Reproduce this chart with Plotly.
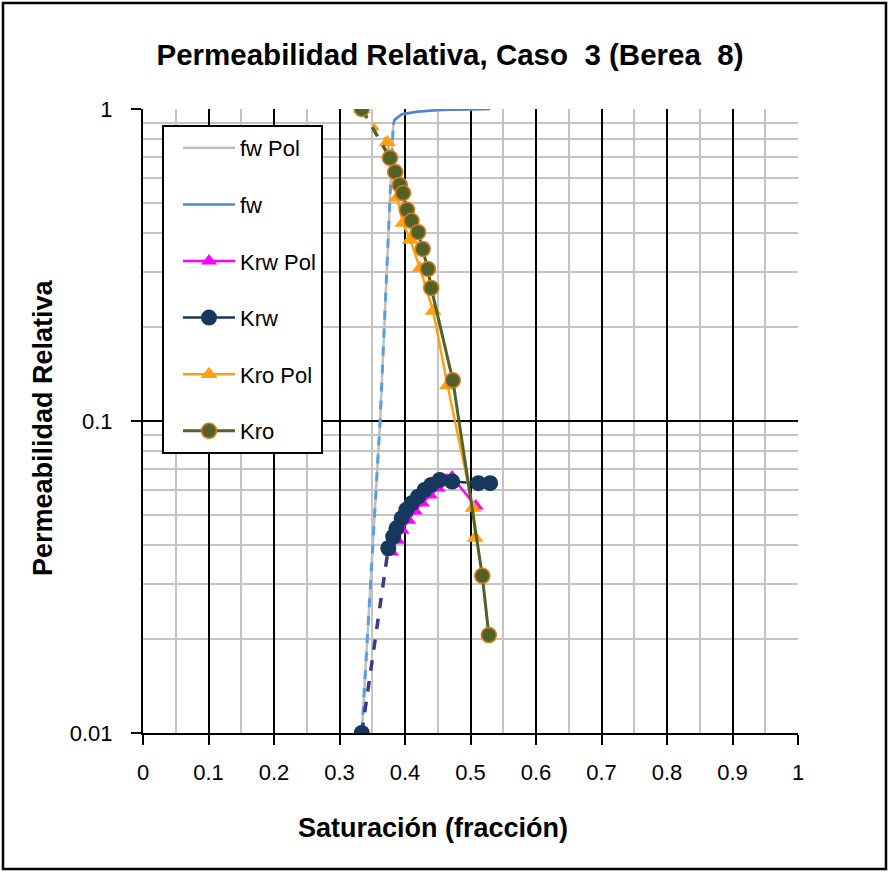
import plotly.graph_objects as go

# Saturation / relative permeability data, Caso 3 (Berea 8)
fw_pol_sw = [0.334, 0.362, 0.382, 0.384, 0.395, 0.418, 0.453, 0.530]
fw_pol_k = [0.010, 0.100, 0.880, 0.925, 0.960, 0.980, 0.992, 1.000]

fw_sw = [0.334, 0.362, 0.382, 0.384, 0.395, 0.418, 0.453, 0.530]
fw_k = [0.010, 0.100, 0.890, 0.922, 0.962, 0.980, 0.993, 1.000]

krw_pol_sw = [0.336, 0.379, 0.388, 0.395, 0.405, 0.415, 0.426, 0.438, 0.450, 0.464, 0.472, 0.508]
krw_pol_k = [0.0099, 0.0380, 0.0415, 0.0447, 0.0481, 0.0515, 0.0546, 0.0579, 0.0610, 0.0647, 0.0661, 0.0534]

krw_sw = [0.334, 0.3745, 0.382, 0.387, 0.395, 0.402, 0.410, 0.420, 0.430, 0.440, 0.453, 0.472, 0.512, 0.530]
krw_k = [0.0100, 0.0391, 0.0426, 0.0453, 0.0488, 0.0519, 0.0545, 0.0572, 0.0601, 0.0624, 0.0647, 0.0640, 0.0632, 0.0632]

kro_pol_sw = [0.334, 0.373, 0.388, 0.397, 0.408, 0.423, 0.443, 0.465, 0.504, 0.507]
kro_pol_k = [1.000, 0.783, 0.519, 0.431, 0.380, 0.309, 0.225, 0.130, 0.0526, 0.0422]

kro_sw = [0.334, 0.377, 0.385, 0.392, 0.397, 0.403, 0.410, 0.420, 0.427, 0.435, 0.440, 0.473, 0.518, 0.528]
kro_k = [1.000, 0.697, 0.628, 0.571, 0.538, 0.475, 0.438, 0.403, 0.356, 0.307, 0.267, 0.135, 0.0319, 0.0206]

x_ticks = [0, 0.1, 0.2, 0.3, 0.4, 0.5, 0.6, 0.7, 0.8, 0.9, 1]
x_tick_text = ["0", "0.1", "0.2", "0.3", "0.4", "0.5", "0.6", "0.7", "0.8", "0.9", "1"]
y_ticks = [0.01, 0.1, 1]
y_tick_text = ["0.01", "0.1", "1"]

FONT = "Liberation Sans, Arial, sans-serif"

C_FWPOL = "#bfbfbf"
C_FW = "#4f86d2"
C_FW_DASH = "#5b9ee0"
C_KRWPOL = "#ff00ff"
C_KRW = "#17375e"
C_KRW_DASH = "#3a3a86"
C_KROPOL = "#ffa010"
C_KRO = "#4f6228"
C_KRO_EDGE = "#e07818"

fig = go.Figure()

# fw Pol (grey line, underneath)
fig.add_trace(go.Scatter(x=fw_pol_sw, y=fw_pol_k, mode="lines", name="fw Pol",
                         line=dict(color=C_FWPOL, width=2.5), legendgroup="a"))
# fw: dashed lower part, solid upper part
fig.add_trace(go.Scatter(x=fw_sw[:3], y=fw_k[:3], mode="lines", showlegend=False,
                         line=dict(color=C_FW_DASH, width=3, dash="dash"), hoverinfo="skip"))
fig.add_trace(go.Scatter(x=fw_sw[2:], y=fw_k[2:], mode="lines", name="fw",
                         line=dict(color=C_FW, width=2.5), legendgroup="b"))

# Krw Pol
fig.add_trace(go.Scatter(x=krw_pol_sw[:1], y=krw_pol_k[:1], mode="markers", showlegend=False,
                         marker=dict(symbol="triangle-up", size=14, color=C_KRWPOL), hoverinfo="skip"))
fig.add_trace(go.Scatter(x=krw_pol_sw[1:], y=krw_pol_k[1:], mode="lines+markers", name="Krw Pol",
                         line=dict(color=C_KRWPOL, width=2.5),
                         marker=dict(symbol="triangle-up", size=14, color=C_KRWPOL), legendgroup="c"))

# Krw
fig.add_trace(go.Scatter(x=krw_sw[:2], y=krw_k[:2], mode="lines", showlegend=False,
                         line=dict(color=C_KRW_DASH, width=3.5, dash="dash"), hoverinfo="skip"))
fig.add_trace(go.Scatter(x=krw_sw[:1], y=krw_k[:1], mode="markers", showlegend=False,
                         marker=dict(symbol="circle", size=16, color=C_KRW), hoverinfo="skip"))
fig.add_trace(go.Scatter(x=krw_sw[1:], y=krw_k[1:], mode="lines+markers", name="Krw",
                         line=dict(color=C_KRW, width=2.5),
                         marker=dict(symbol="circle", size=16, color=C_KRW), legendgroup="d"))

# Kro Pol
fig.add_trace(go.Scatter(x=kro_pol_sw[:2], y=kro_pol_k[:2], mode="lines", showlegend=False,
                         line=dict(color=C_KROPOL, width=3, dash="dash"), hoverinfo="skip"))
fig.add_trace(go.Scatter(x=kro_pol_sw[:1], y=kro_pol_k[:1], mode="markers", showlegend=False,
                         marker=dict(symbol="triangle-up", size=15, color=C_KROPOL), hoverinfo="skip"))
fig.add_trace(go.Scatter(x=kro_pol_sw[1:], y=kro_pol_k[1:], mode="lines+markers", name="Kro Pol",
                         line=dict(color=C_KROPOL, width=2.5),
                         marker=dict(symbol="triangle-up", size=15, color=C_KROPOL), legendgroup="e"))

# Kro
fig.add_trace(go.Scatter(x=kro_sw[:2], y=kro_k[:2], mode="lines", showlegend=False,
                         line=dict(color=C_KRO, width=3.5, dash="dash"), hoverinfo="skip"))
fig.add_trace(go.Scatter(x=kro_sw[:1], y=kro_k[:1], mode="markers", showlegend=False,
                         marker=dict(symbol="circle", size=15, color=C_KRO,
                                     line=dict(color=C_KRO_EDGE, width=1.5)), hoverinfo="skip"))
fig.add_trace(go.Scatter(x=kro_sw[1:], y=kro_k[1:], mode="lines+markers", name="Kro",
                         line=dict(color=C_KRO, width=3),
                         marker=dict(symbol="circle", size=15, color=C_KRO,
                                     line=dict(color=C_KRO_EDGE, width=1.5)), legendgroup="f"))

W, H = 891, 872
L, R, T, B = 143, 93, 109, 139
pw, ph = W - L - R, H - T - B


def px_x(p):
    return (p - L) / pw


def px_y(p):
    return (H - B - p) / ph


fig.update_layout(
    width=W, height=H,
    margin=dict(l=L, r=R, t=T, b=B),
    paper_bgcolor="white", plot_bgcolor="white",
    font=dict(family=FONT, size=22, color="black"),
    title=dict(text="<b>Permeabilidad Relativa, Caso  3 (Berea  8)</b>",
               x=450 / W, xanchor="center", y=1 - 55 / H, yanchor="middle",
               font=dict(family=FONT, size=29.5, color="black")),
    showlegend=True,
    legend=dict(x=px_x(162), y=px_y(125), xanchor="left", yanchor="top",
                bgcolor="white", bordercolor="black", borderwidth=2,
                font=dict(family=FONT, size=22, color="black"),
                tracegroupgap=25, itemwidth=52, indentation=14),
    xaxis=dict(range=[0, 1], tickvals=x_ticks, ticktext=x_tick_text,
               tickfont=dict(family=FONT, size=22, color="black"),
               showgrid=True, gridcolor="black", gridwidth=1.5,
               minor=dict(dtick=0.05, showgrid=True, gridcolor="#c4c4c4", gridwidth=1.5),
               showline=True, linecolor="black", linewidth=2,
               ticks="outside", ticklen=10, tickwidth=2, tickcolor="black",
               ticklabelstandoff=9, zeroline=False),
    yaxis=dict(type="log", range=[-2, 0], tickvals=y_ticks, ticktext=y_tick_text,
               tickfont=dict(family=FONT, size=22, color="black"),
               showgrid=True, gridcolor="black", gridwidth=1.5,
               minor=dict(dtick="D1", showgrid=True, gridcolor="#c4c4c4", gridwidth=1.5),
               showline=True, linecolor="black", linewidth=2,
               ticks="outside", ticklen=10, tickwidth=2, tickcolor="black",
               ticklabelstandoff=14, zeroline=False),
    annotations=[
        dict(text="<b>Saturación (fracción)</b>", xref="paper", yref="paper",
             x=px_x(433), y=px_y(828), xanchor="center", yanchor="middle",
             showarrow=False, font=dict(family=FONT, size=27, color="black")),
        dict(text="<b>Permeabilidad Relativa</b>", xref="paper", yref="paper",
             x=px_x(43), y=px_y(428), xanchor="center", yanchor="middle", textangle=-90,
             showarrow=False, font=dict(family=FONT, size=27, color="black")),
    ],
    shapes=[
        dict(type="rect", xref="paper", yref="paper",
             x0=px_x(3), x1=px_x(886), y0=px_y(869), y1=px_y(3),
             line=dict(color="black", width=2.5), fillcolor="rgba(0,0,0,0)", layer="below"),
    ],
)

fig.write_html("out.html")
